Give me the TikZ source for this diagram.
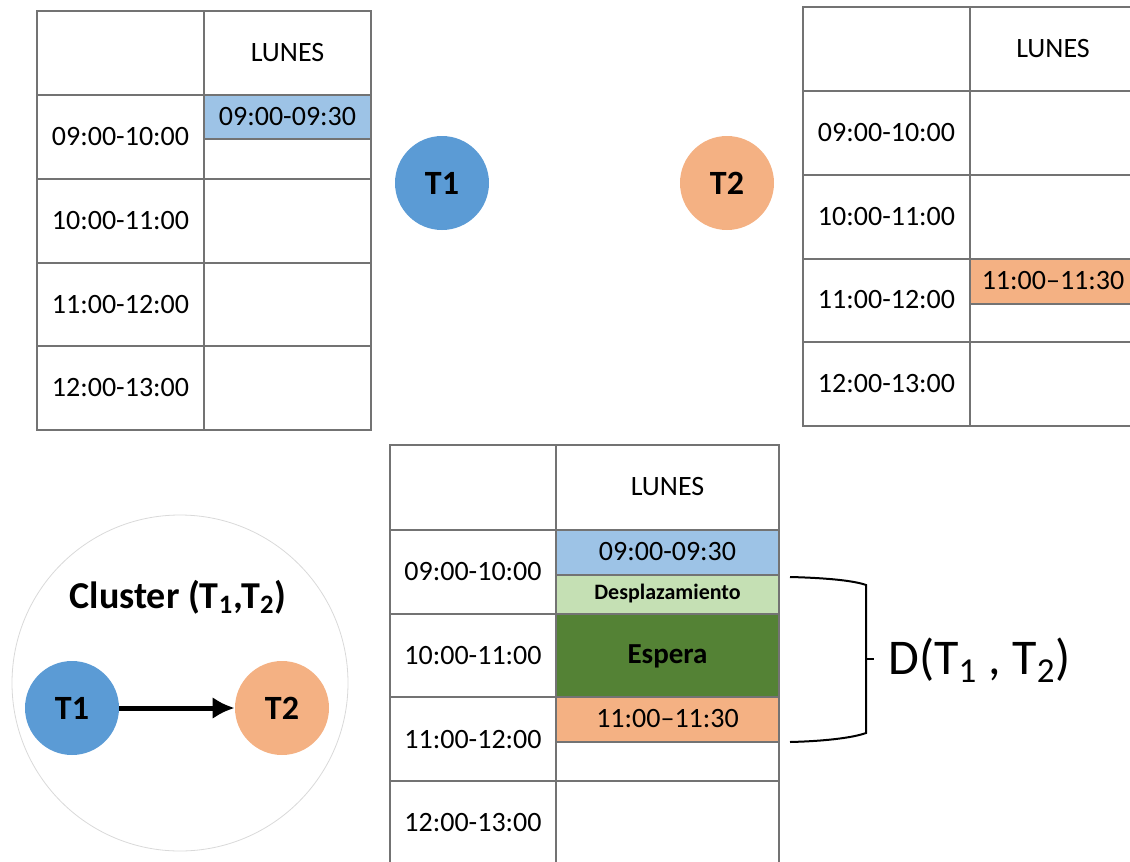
\documentclass[tikz,border=0pt]{standalone}
\usepackage{fontspec}
\setmainfont{Carlito}
\usetikzlibrary{arrows.meta, positioning}
\definecolor{azulT}{HTML}{5B9BD5}
\definecolor{azulbar}{HTML}{9DC3E6}
\definecolor{naranja}{HTML}{F4B183}
\definecolor{verdeclaro}{HTML}{C5E0B4}
\definecolor{verdeosc}{HTML}{548235}

\begin{document}
\begin{tikzpicture}[x=0.5pt, y=-0.5pt, >=Latex,
  tabla/.style={draw=black!55, line width=0.6pt},
  celda/.style={font=\fontsize{14}{16}\selectfont, inner sep=0pt},
  tarea/.style={circle, minimum size=47pt, inner sep=0pt, font=\fontsize{17}{20}\selectfont\bfseries}]
  \useasboundingbox (0,0) rectangle (1130,862);
  % Schedule of T1 (top left). Rows are 84 px high, header first.
  \filldraw[fill=azulbar, tabla] (204,95) rectangle (371,139);
  \draw[tabla] (37,11) rectangle (371,430);
  \draw[tabla] (204,11) -- (204,430);
  \foreach \y in {95,179,263,346} \draw[tabla] (37,\y) -- (371,\y);
  \node[celda] (lunA) at (287.5,53) {LUNES};
  \node[celda] (barA) at (287.5,117) {09:00-09:30};
  \foreach \h/\y [count=\i] in {09:00-10:00/137, 10:00-11:00/221, 11:00-12:00/305, 12:00-13:00/388}
    \node[celda] (horaA-\i) at (120.5,\y) {\h};
  % Task circles between the two schedules
  \node[tarea, fill=azulT] (t1) at (442,183) {T1};
  \node[tarea, fill=naranja] (t2) at (727,183) {T2};
  % Schedule of T2 (top right), cut by the right border
  \filldraw[fill=naranja, tabla] (970,259) rectangle (1137,304);
  \draw[tabla] (803,7) rectangle (1137,426);
  \draw[tabla] (970,7) -- (970,426);
  \foreach \y in {91,175,259,342} \draw[tabla] (803,\y) -- (1137,\y);
  \node[celda] (lunB) at (1053,49) {LUNES};
  \node[celda] (barB) at (1053,281) {11:00–11:30};
  \foreach \h/\y [count=\i] in {09:00-10:00/133, 10:00-11:00/217, 11:00-12:00/300, 12:00-13:00/384}
    \node[celda] (horaB-\i) at (886.5,\y) {\h};
  % Merged schedule (bottom): T1, travel, waiting, T2
  \filldraw[fill=azulbar, tabla] (556,530) rectangle (779,575);
  \filldraw[fill=verdeclaro, tabla] (556,575) rectangle (779,614);
  \filldraw[fill=verdeosc, tabla] (556,614) rectangle (779,697);
  \filldraw[fill=naranja, tabla] (556,697) rectangle (779,742);
  \draw[tabla] (390,865) -- (390,445) -- (779,445) -- (779,865);
  \draw[tabla] (556,445) -- (556,865);
  \foreach \y in {530,614,697,781} \draw[tabla] (390,\y) -- (779,\y);
  \node[celda] (lunC) at (667.5,487) {LUNES};
  \node[celda] (barC1) at (667.5,552) {09:00-09:30};
  \node[celda, font=\fontsize{11}{13}\selectfont\bfseries] (desp) at (667.5,594) {Desplazamiento};
  \node[celda, font=\fontsize{14.5}{16}\selectfont\bfseries] (esp) at (667.5,656) {Espera};
  \node[celda] (barC2) at (667.5,719) {11:00–11:30};
  \foreach \h/\y [count=\i] in {09:00-10:00/572, 10:00-11:00/656, 11:00-12:00/740, 12:00-13:00/823}
    \node[celda] (horaC-\i) at (473,\y) {\h};
  % Bracket from the end of T1 to the end of T2
  \coordinate (llaveA) at (790,577);
  \coordinate (llaveB) at (790,742);
  \coordinate (llaveM) at (874,659);
  \draw[line width=1pt] (llaveA) .. controls (830,578) and (855,581) .. (866,585)
    -- (866,733) .. controls (855,737) and (830,741) .. (llaveB);
  \draw[line width=1pt] (866,659) -- (llaveM);
  \node[anchor=west, inner sep=0pt, font=\fontsize{25}{28}\selectfont] (dist) at (888,660)
    {D(T\textsubscript{1} , T\textsubscript{2})};
  % Cluster of the two tasks (bottom left)
  \node[circle, draw=black!15, minimum size=168pt, inner sep=0pt] (cluster) at (180,683) {};
  \node[font=\fontsize{19}{22}\selectfont\bfseries, inner sep=0pt] (clab) at (178,597)
    {Cluster (T\textsubscript{1},T\textsubscript{2})};
  \node[tarea, fill=azulT] (c1) at (72,708) {T1};
  \node[tarea, fill=naranja] (c2) at (282,708) {T2};
  \draw[-{Latex[length=11pt,width=11pt]}, line width=2.5pt] (c1) -- (c2);
\end{tikzpicture}
\end{document}
